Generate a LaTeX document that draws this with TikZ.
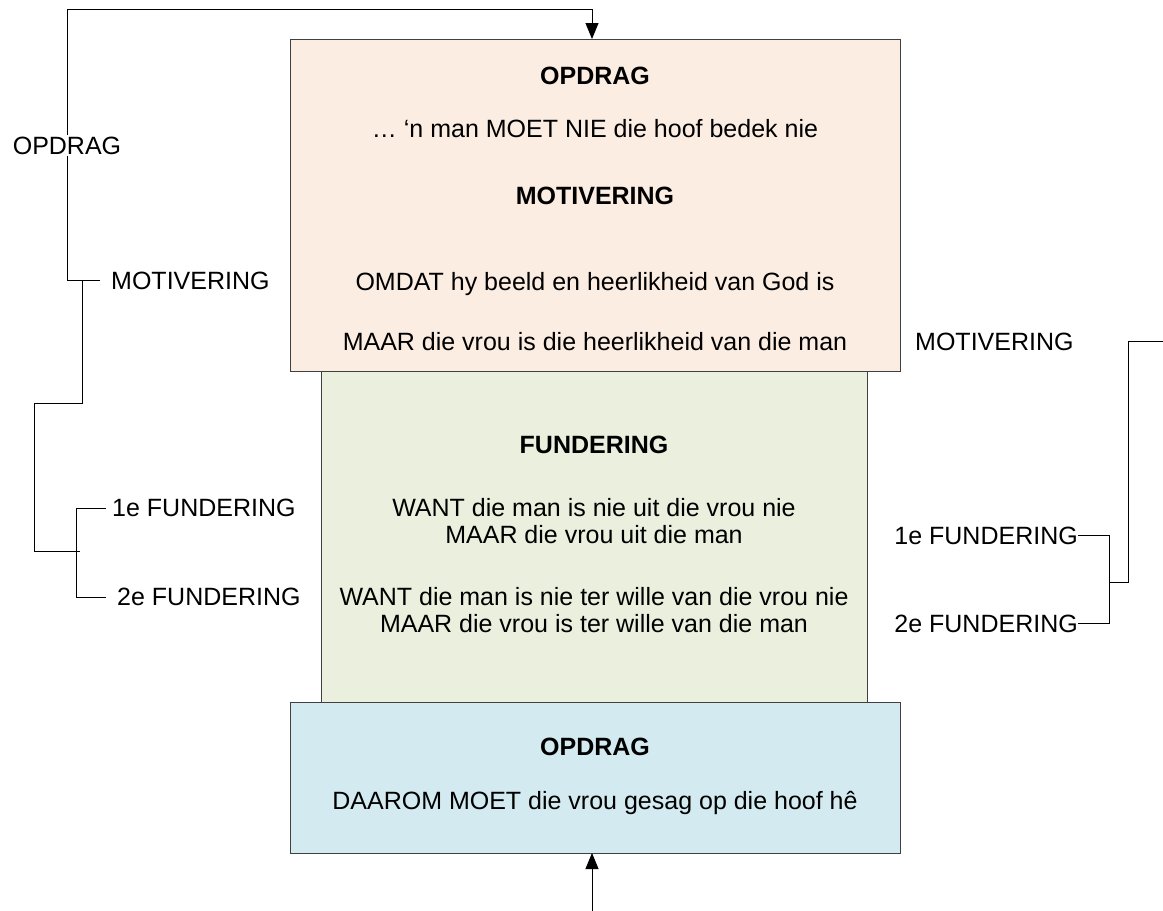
\documentclass[tikz,border=0pt]{standalone}
\usepackage{fontspec}
\setmainfont{Liberation Sans}
\usetikzlibrary{arrows.meta}
\definecolor{peach}{RGB}{252,237,227}
\definecolor{sage}{RGB}{235,239,222}
\definecolor{sky}{RGB}{210,234,240}
\definecolor{edge}{RGB}{64,64,64}
\tikzset{
  box/.style={draw=edge, line width=1pt, inner sep=0pt, anchor=north west},
  txt/.style={inner sep=0pt, anchor=base, font=\fontsize{25}{30}\selectfont},
  ttl/.style={txt, font=\fontsize{25}{30}\selectfont\bfseries},
  lblw/.style={inner sep=0pt, anchor=base west, font=\fontsize{25}{30}\selectfont},
  lble/.style={inner sep=0pt, anchor=base east, font=\fontsize{25}{30}\selectfont},
  conn/.style={draw=black, line width=0.9pt},
  arr/.style={conn, -{Triangle[length=16pt,width=13pt]}}
}
\begin{document}
\begin{tikzpicture}[x=1pt,y=-1pt]
\useasboundingbox (0,0) rectangle (1163,911);
% boxes
\node[box, fill=peach, minimum width=610pt, minimum height=332pt] (top) at (290,39) {};
\node[box, fill=sage, minimum width=546pt, minimum height=331pt] (mid) at (321,371) {};
\node[box, fill=sky, minimum width=610pt, minimum height=151pt] (bot) at (290,702) {};
% top box text
\node[ttl] (t1) at (595,84) {OPDRAG};
\node[txt] (t2) at (595,137) {… ‘n man MOET NIE die hoof bedek nie};
\node[ttl] (t3) at (595,204) {MOTIVERING};
\node[txt] (t4) at (595,290) {OMDAT hy beeld en heerlikheid van God is};
\node[txt] (t5) at (595,350) {MAAR die vrou is die heerlikheid van die man};
% middle box text
\node[ttl] (m1) at (594,453) {FUNDERING};
\node[txt] (m2) at (594,516) {WANT die man is nie uit die vrou nie};
\node[txt] (m3) at (594,543) {MAAR die vrou uit die man};
\node[txt] (m4) at (594,605) {WANT die man is nie ter wille van die vrou nie};
\node[txt] (m5) at (594,632) {MAAR die vrou is ter wille van die man};
% bottom box text
\node[ttl] (b1) at (595,755) {OPDRAG};
\node[txt] (b2) at (595,809) {DAAROM MOET die vrou gesag op die hoof hê};
% left labels
\node[lblw] (lmot) at (111,289) {MOTIVERING};
\node[lblw] (lf1) at (112,516) {1e FUNDERING};
\node[lblw] (lf2) at (117,605) {2e FUNDERING};
% right labels
\node[lblw] (rmot) at (915,350) {MOTIVERING};
\node[lble] (rf1) at (1078,544) {1e FUNDERING};
\node[lble] (rf2) at (1078,632) {2e FUNDERING};
% coordinates
\coordinate (lm) at (100,280);
\coordinate (lmj) at (82,280);
\coordinate (l1) at (106,508);
\coordinate (l2) at (106,597);
\coordinate (rs) at (1163,341);
\coordinate (r1) at (1078,535);
\coordinate (r2) at (1078,623);
\coordinate (bs) at (592,911);
\coordinate (ta) at (592,39);
\coordinate (ba) at (592,853);
% left connectors
\draw[arr] (lm) -- (67,280) -- (67,9) -| (ta);
\draw[conn] (lmj) -- (82,403) -- (34,403) -- (34,551) -- (80,551);
\draw[conn] (l1) -- (76,508) -- (76,597) -- (l2);
% right connectors
\draw[conn] (rs) -- (1128,341) -- (1128,582) -- (1109,582);
\draw[conn] (r1) -- (1109,535) -- (1109,623) -- (r2);
% bottom arrow
\draw[arr] (bs) -- (ba);
% label on line
\node[inner sep=2pt, fill=white, anchor=base, font=\fontsize{25}{30}\selectfont] (lop) at (67,154) {OPDRAG};
\end{tikzpicture}
\end{document}
